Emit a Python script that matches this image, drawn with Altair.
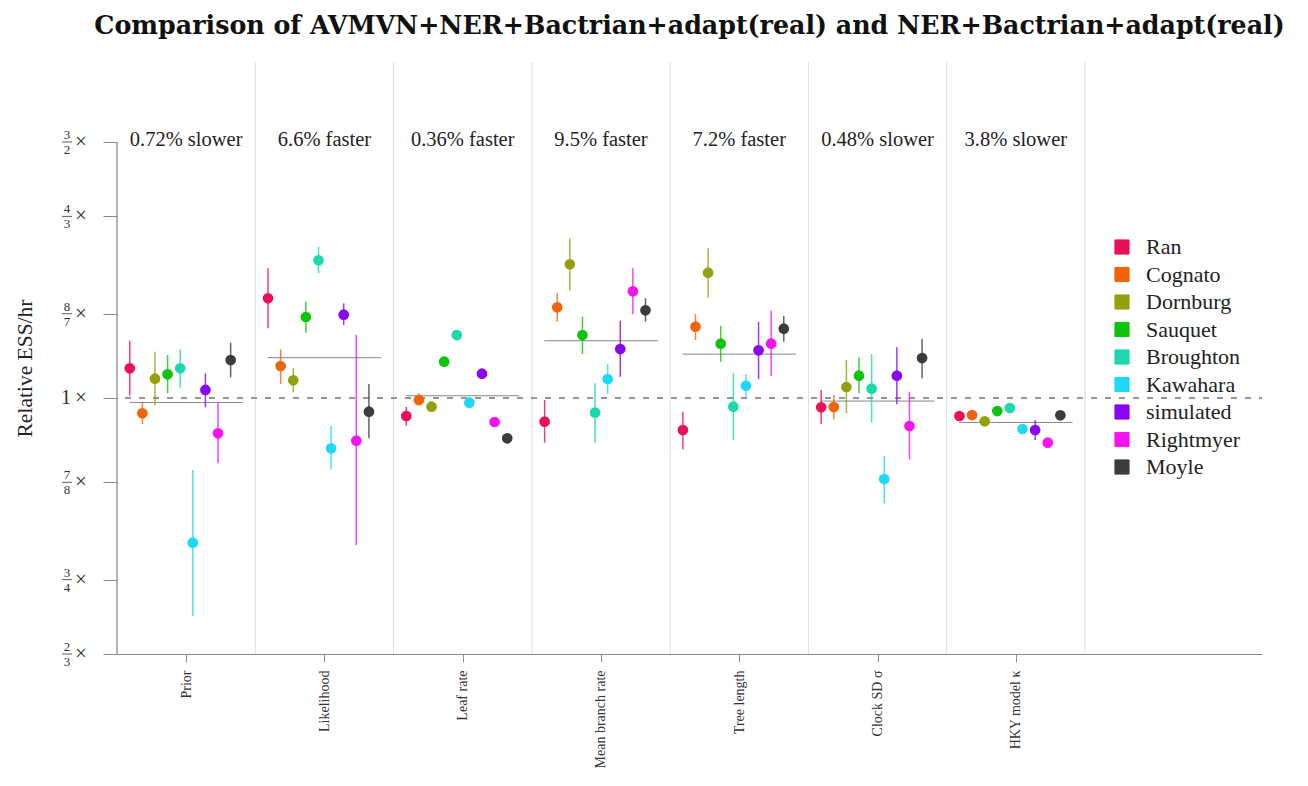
import altair as alt
import pandas as pd

# ---------------- data ----------------
series = ["Ran", "Cognato", "Dornburg", "Sauquet", "Broughton",
          "Kawahara", "simulated", "Rightmyer", "Moyle"]
colors = ["#ea0f5a", "#f0640c", "#96a00f", "#0fc30f", "#1cd8aa",
          "#1ed9f5", "#8a05f0", "#f514f0", "#3c3c3c"]
params = ["Prior", "Likelihood", "Leaf rate", "Mean branch rate",
          "Tree length", "Clock SD σ", "HKY model κ"]
speed_text = ["0.72% slower", "6.6% faster", "0.36% faster", "9.5% faster",
              "7.2% faster", "0.48% slower", "3.8% slower"]
mean_ratio = [0.9928, 1.066, 1.0036, 1.095, 1.072, 0.9952, 0.962]

# values per parameter, in series order
prior_val = [1.0482, 0.9761, 1.0310, 1.0383, 1.0482, 0.7952, 1.0128, 0.9456, 1.0620]
prior_lo  = [1.0036, 0.9597, 0.9885, 1.0075, 1.0164, 0.7080, 0.9854, 0.9017, 1.0333]
prior_hi  = [1.0950, 0.9942, 1.0761, 1.0705, 1.0802, 0.8922, 1.0399, 0.9916, 1.0915]

like_val = [1.1711, 1.0520, 1.0284, 1.1369, 1.2437, 0.9234, 1.1410, 0.9346, 0.9785]
like_lo  = [1.1167, 1.0224, 1.0091, 1.1090, 1.2184, 0.8932, 1.1226, 0.7923, 0.9382]
like_hi  = [1.2280, 1.0802, 1.0482, 1.1648, 1.2708, 0.9566, 1.1618, 1.1049, 1.0224]

leaf_val = [0.9719, 0.9968, 0.9863, 1.0592, 1.1049, 0.9926, 1.0392, 0.9627, 0.9382]
leaf_lo  = [0.9571, 0.9890, 0.9781, 1.0520, 1.0962, 0.9843, 1.0322, 0.9566, 0.9312]
leaf_hi  = [0.9860, 1.0080, 0.9953, 1.0671, 1.1137, 1.0016, 1.0470, 0.9688, 0.9446]

mbr_val = [0.9632, 1.1545, 1.2359, 1.1049, 0.9770, 1.0305, 1.0807, 1.1841, 1.1490]
mbr_lo  = [0.9317, 1.1285, 1.1852, 1.0722, 0.9317, 1.0064, 1.0343, 1.1418, 1.1285]
mbr_hi  = [0.9968, 1.1804, 1.2878, 1.1374, 1.0236, 1.0553, 1.1302, 1.2280, 1.1711]

tree_val = [0.9506, 1.1196, 1.2195, 1.0898, 0.9863, 1.0197, 1.0785, 1.0898, 1.1160]
tree_lo  = [0.9220, 1.0962, 1.1722, 1.0592, 0.9356, 1.0011, 1.0305, 1.0355, 1.0933]
tree_hi  = [0.9785, 1.1423, 1.2676, 1.1208, 1.0399, 1.0388, 1.1285, 1.1483, 1.1387]

clock_val = [0.9854, 0.9858, 1.0176, 1.0360, 1.0148, 0.8796, 1.0360, 0.9566, 1.0654]
clock_lo  = [0.9597, 0.9668, 0.9761, 1.0075, 0.9622, 0.8464, 0.9901, 0.9075, 1.0317]
clock_hi  = [1.0128, 1.0048, 1.0620, 1.0666, 1.0722, 0.9122, 1.0836, 1.0100, 1.0985]

hky_val = [0.9719, 0.9734, 0.9638, 0.9796, 0.9843, 0.9521, 0.9506, 0.9317, 0.9730]
hky_lo  = [0.9673, 0.9688, 0.9592, 0.9750, 0.9797, 0.9476, 0.9356, 0.9273, 0.9684]
hky_hi  = [0.9766, 0.9781, 0.9684, 0.9843, 0.9890, 0.9566, 0.9657, 0.9361, 0.9777]

ytick_values = [2/3, 3/4, 7/8, 1, 8/7, 4/3, 3/2]
ytick_num = ["2", "3", "7", "1", "8", "4", "3"]
ytick_den = ["3", "4", "8", "", "7", "3", "2"]

# ---------------- build tables ----------------
groups = [(prior_val, prior_lo, prior_hi), (like_val, like_lo, like_hi),
          (leaf_val, leaf_lo, leaf_hi), (mbr_val, mbr_lo, mbr_hi),
          (tree_val, tree_lo, tree_hi), (clock_val, clock_lo, clock_hi),
          (hky_val, hky_lo, hky_hi)]
step = 0.0912
shift = -0.043
rows = []
for gi, (vals, los, his) in enumerate(groups):
    for si, s in enumerate(series):
        rows.append(dict(param=params[gi], series=s, order=si,
                         x=gi + shift + (si - 4) * step,
                         v=vals[si], lo=los[si], hi=his[si]))
df = pd.DataFrame(rows)

df_groups = pd.DataFrame(dict(gi=list(range(len(params))), text=speed_text,
                              mean=mean_ratio,
                              x0=[i - 0.41 for i in range(len(params))],
                              x1=[i + 0.41 for i in range(len(params))],
                              sep=[i + 0.5 for i in range(len(params))]))
df_ticks = pd.DataFrame(dict(v=ytick_values, num=ytick_num, den=ytick_den))
df_frac = df_ticks[df_ticks["den"] != ""]
df_one = df_ticks[df_ticks["den"] == ""]
df_axis = pd.DataFrame(dict(y0=[min(ytick_values)], y1=[max(ytick_values)]))
df_one_line = pd.DataFrame(dict(v=[1.0]))

W, H = 1145, 592
FONT = "Liberation Serif"
TFONT = "DejaVu Serif"
GRAY = "#8a8a8a"

xscale = alt.Scale(domain=[-0.5, 7.78], nice=False, zero=False)
yscale = alt.Scale(type="log", domain=[2/3, 1.7027], nice=False, zero=False)
cscale = alt.Scale(domain=series, range=colors)
label_expr = "[" + ",".join("'" + p + "'" for p in params) + "][datum.value]"

legend = alt.Legend(title=None, orient="none", legendX=994, legendY=174,
                    symbolType="square", symbolSize=200,
                    symbolStrokeColor="#333", symbolStrokeWidth=1,
                    symbolOpacity=1, labelFont=FONT, labelFontSize=22,
                    labelColor="#222", labelOffset=13, rowPadding=5.5)

X = alt.X("x:Q", scale=xscale,
          axis=alt.Axis(values=list(range(len(params))), labelExpr=label_expr,
                        grid=False, tickSize=8, tickColor=GRAY, domainColor=GRAY,
                        labelAngle=270, labelFont=FONT, labelFontSize=14,
                        labelColor="#333", labelPadding=8, title=None))
Y = alt.Y("v:Q", scale=yscale,
          axis=alt.Axis(values=ytick_values, labels=False, domain=False, grid=False,
                        tickSize=14, tickColor=GRAY, title="Relative ESS/hr",
                        titleFont=FONT, titleFontSize=21.5, titleFontWeight="normal",
                        titleColor="#222", titleX=-92, titleY=306, titleAngle=270,
                        titleAlign="center", titleBaseline="middle"))
color = alt.Color("series:N", scale=cscale, sort=series, legend=legend)

base = alt.Chart(df)

seps = alt.Chart(df_groups).mark_rule(color="#dddddd", strokeWidth=1).encode(
    x=alt.X("sep:Q", scale=xscale), y=alt.value(0), y2=alt.value(H))

dashed = alt.Chart(df_one_line).mark_rule(color="#949494", strokeWidth=2,
                                          strokeDash=[6, 8]).encode(
    y=alt.Y("v:Q", scale=yscale), x=alt.value(8), x2=alt.value(W))

means = alt.Chart(df_groups).mark_rule(color="#888888", strokeWidth=1).encode(
    x=alt.X("x0:Q", scale=xscale), x2="x1:Q", y=alt.Y("mean:Q", scale=yscale))

errs = base.mark_rule(strokeWidth=1.5, opacity=0.8).encode(
    x=X, y=alt.Y("lo:Q", scale=yscale), y2="hi:Q", color=color)

pts = base.mark_circle(size=115, opacity=1).encode(x=X, y=Y, color=color)

ann = alt.Chart(df_groups).mark_text(font=FONT, fontSize=20.5, color="#222").encode(
    x=alt.X("gi:Q", scale=xscale), y=alt.value(78), text="text:N")

yline = alt.Chart(df_axis).mark_rule(color=GRAY, strokeWidth=1.3).encode(
    x=alt.value(0), y=alt.Y("y0:Q", scale=yscale), y2="y1:Q")

num = alt.Chart(df_frac).mark_text(font=FONT, fontSize=13, color="#333", dy=-7).encode(
    x=alt.value(-50), y=alt.Y("v:Q", scale=yscale), text="num:N")
den = alt.Chart(df_frac).mark_text(font=FONT, fontSize=13, color="#333", dy=8).encode(
    x=alt.value(-50), y=alt.Y("v:Q", scale=yscale), text="den:N")
bar = alt.Chart(df_frac).mark_rule(color="#333", strokeWidth=0.8).encode(
    x=alt.value(-55), x2=alt.value(-45), y=alt.Y("v:Q", scale=yscale))
one = alt.Chart(df_one).mark_text(font=FONT, fontSize=21, color="#333").encode(
    x=alt.value(-51), y=alt.Y("v:Q", scale=yscale), text="num:N")
times = alt.Chart(df_ticks).mark_text(font=FONT, fontSize=21, color="#333").encode(
    x=alt.value(-36), y=alt.Y("v:Q", scale=yscale), text=alt.value("×"))

chart = alt.layer(seps, dashed, means, errs, pts, ann, yline, num, den, bar, one, times).properties(
    width=W, height=H,
    title=alt.TitleParams(
        "Comparison of AVMVN+NER+Bactrian+adapt(real) and NER+Bactrian+adapt(real)",
        font=TFONT, fontSize=25.3, fontWeight="bold", color="#111",
        anchor="middle", offset=22),
    autosize=alt.AutoSizeParams(type="none"),
    padding={"left": 109, "top": 54, "right": 30, "bottom": 128},
).configure(background="white").configure_view(strokeWidth=0)

chart.save("out.html", embed_options={"renderer": "svg", "actions": False})
